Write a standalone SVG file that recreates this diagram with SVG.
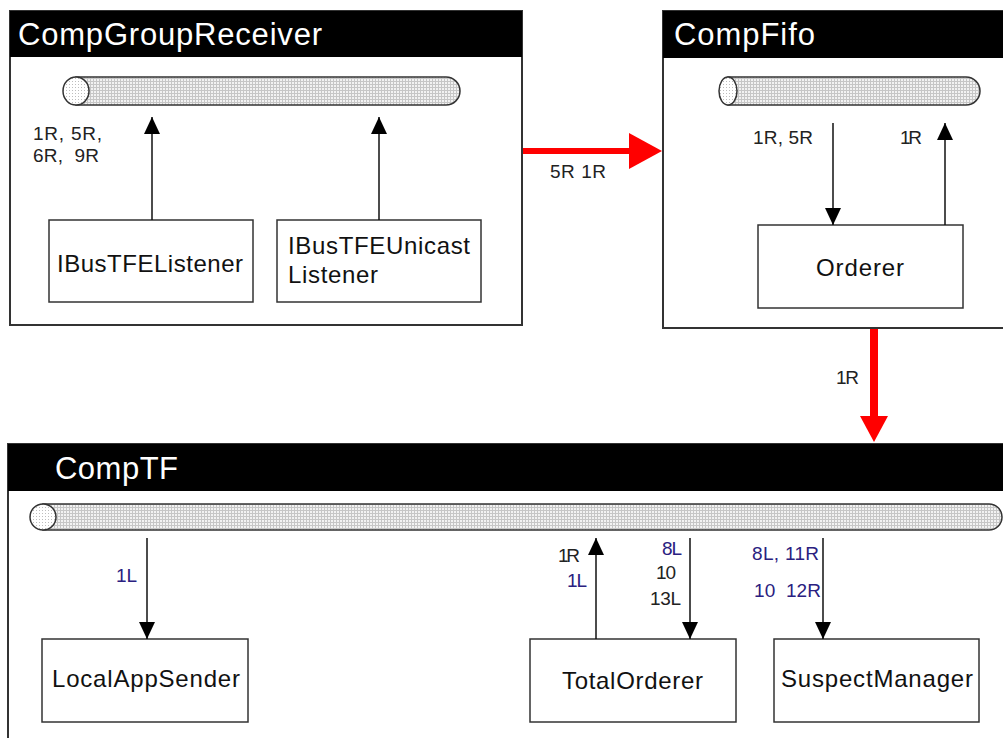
<svg xmlns="http://www.w3.org/2000/svg" width="1003" height="738" viewBox="0 0 1003 738">
  <defs>
    <!-- fine dotted grid fill used for the bus cylinders -->
    <pattern id="dots" width="3" height="3" patternUnits="userSpaceOnUse">
      <rect width="3" height="3" fill="#f2f2f2"/>
      <rect width="3" height="1" fill="#c6c6c6"/>
      <rect width="1" height="3" fill="#c6c6c6"/>
    </pattern>
    <pattern id="dotsLight" width="3" height="3" patternUnits="userSpaceOnUse">
      <rect width="3" height="3" fill="#ffffff"/>
      <rect width="1" height="1" fill="#bdbdbd"/>
    </pattern>
    <marker id="arrow" viewBox="0 0 17 16" refX="17" refY="8" markerWidth="17" markerHeight="16" markerUnits="userSpaceOnUse" orient="auto">
      <path d="M0,0 L17,8 L0,16 z" fill="#000"/>
    </marker>
    <style>
      .frame { fill: #ffffff; stroke: #333333; stroke-width: 2; }
      .header { fill: #000000; }
      .title { font-family: "Liberation Sans", Arial, sans-serif; font-size: 31px; fill: #ffffff; }
      .node { fill: #ffffff; stroke: #333333; stroke-width: 1.5; }
      .nlabel { font-family: "Liberation Sans", Arial, sans-serif; font-size: 24px; fill: #111111; }
      .lbl { font-family: "Liberation Sans", Arial, sans-serif; font-size: 19px; fill: #222222; }
      .blue { fill: #2a2080; }
      .bus { fill: url(#dots); stroke: #333333; stroke-width: 1.5; }
      .cap { fill: url(#dotsLight); stroke: #333333; stroke-width: 1.5; }
      .link { stroke: #111111; stroke-width: 1.5; fill: none; marker-end: url(#arrow); }
      .red { stroke: #ff0000; fill: none; }
      .redhead { fill: #ff0000; }
    </style>
  </defs>

  <rect width="1003" height="738" fill="#ffffff"/>

  <!-- CompGroupReceiver container -->
  <g id="CompGroupReceiver">
    <rect class="frame" x="10" y="11" width="512" height="314"/>
    <rect class="header" x="10" y="11" width="512" height="46"/>
    <text class="title" x="18" y="45" textLength="304" lengthAdjust="spacing">CompGroupReceiver</text>
    <g id="bus-receiver">
      <path class="bus" d="M76,77 L446,77 A14,14 0 0 1 446,105 L76,105 z"/>
      <ellipse class="cap" cx="76" cy="91" rx="13" ry="14"/>
    </g>
    <text class="lbl" x="33" y="140" textLength="69" lengthAdjust="spacing">1R, 5R,</text>
    <text class="lbl" x="33" y="162" textLength="66" lengthAdjust="spacing" xml:space="preserve">6R,  9R</text>
  </g>

  <g id="IBusTFEListener">
    <rect class="node" x="49" y="220" width="204" height="82"/>
    <text class="nlabel" x="57" y="272" textLength="186" lengthAdjust="spacing">IBusTFEListener</text>
  </g>

  <g id="IBusTFEUnicastListener">
    <rect class="node" x="277" y="220" width="204" height="82"/>
    <text class="nlabel" x="288" y="254" textLength="182" lengthAdjust="spacing">IBusTFEUnicast</text>
    <text class="nlabel" x="288" y="283" textLength="90" lengthAdjust="spacing">Listener</text>
  </g>

  <!-- CompFifo container -->
  <g id="CompFifo">
    <rect class="frame" x="663" y="11" width="350" height="317"/>
    <rect class="header" x="663" y="11" width="350" height="47"/>
    <text class="title" x="674" y="45" textLength="141" lengthAdjust="spacing">CompFifo</text>
    <g id="bus-fifo">
      <path class="bus" d="M728,77 L966,77 A14,14 0 0 1 966,105 L728,105 z"/>
      <ellipse class="cap" cx="728" cy="91" rx="9" ry="14"/>
    </g>
    <text class="lbl" x="753" y="144" textLength="60" lengthAdjust="spacing">1R, 5R</text>
    <text class="lbl" x="900" y="144" textLength="22" lengthAdjust="spacing">1R</text>
  </g>

  <g id="Orderer">
    <rect class="node" x="758" y="225" width="205" height="83"/>
    <text class="nlabel" x="816" y="276" textLength="88" lengthAdjust="spacing">Orderer</text>
  </g>

  <!-- CompTF container -->
  <g id="CompTF">
    <rect class="frame" x="8" y="444" width="1005" height="310"/>
    <rect class="header" x="8" y="444" width="1005" height="47"/>
    <text class="title" x="55" y="479" textLength="123" lengthAdjust="spacing">CompTF</text>
    <g id="bus-tf">
      <path class="bus" d="M43,504 L989,504 A13,13 0 0 1 989,530 L43,530 z"/>
      <ellipse class="cap" cx="43" cy="517" rx="13" ry="13"/>
    </g>
    <text class="lbl blue" x="116" y="582" textLength="21" lengthAdjust="spacing">1L</text>
    <text class="lbl" x="558" y="562" textLength="22" lengthAdjust="spacing">1R</text>
    <text class="lbl blue" x="567" y="587" textLength="20" lengthAdjust="spacing">1L</text>
    <text class="lbl blue" x="662" y="555" textLength="20" lengthAdjust="spacing">8L</text>
    <text class="lbl" x="656" y="579" textLength="20" lengthAdjust="spacing">10</text>
    <text class="lbl" x="650" y="605" textLength="31" lengthAdjust="spacing">13L</text>
    <text class="lbl blue" x="752" y="560" textLength="67" lengthAdjust="spacing">8L, 11R</text>
    <text class="lbl blue" x="754" y="597" textLength="67" lengthAdjust="spacing" xml:space="preserve">10  12R</text>
  </g>

  <g id="LocalAppSender">
    <rect class="node" x="42" y="639" width="206" height="83"/>
    <text class="nlabel" x="52" y="687" textLength="188" lengthAdjust="spacing">LocalAppSender</text>
  </g>

  <g id="TotalOrderer">
    <rect class="node" x="530" y="639" width="206" height="83"/>
    <text class="nlabel" x="562" y="689" textLength="141" lengthAdjust="spacing">TotalOrderer</text>
  </g>

  <g id="SuspectManager">
    <rect class="node" x="774" y="639" width="205" height="83"/>
    <text class="nlabel" x="781" y="687" textLength="192" lengthAdjust="spacing">SuspectManager</text>
  </g>

  <!-- connectors -->
  <g id="connectors">
    <line class="link" x1="152" y1="220" x2="152" y2="117"/>
    <line class="link" x1="379" y1="220" x2="379" y2="117"/>
    <line class="link" x1="833" y1="123" x2="833" y2="225"/>
    <line class="link" x1="945" y1="225" x2="945" y2="123"/>
    <line class="link" x1="147" y1="538" x2="147" y2="639"/>
    <line class="link" x1="596" y1="639" x2="596" y2="538"/>
    <line class="link" x1="690" y1="538" x2="690" y2="639"/>
    <line class="link" x1="823" y1="538" x2="823" y2="639"/>

    <!-- CompGroupReceiver to CompFifo -->
    <line class="red" x1="523" y1="151" x2="630" y2="151" stroke-width="6"/>
    <polygon class="redhead" points="629,133 662,151 629,169"/>
    <text class="lbl" x="550" y="178" textLength="56" lengthAdjust="spacing">5R 1R</text>

    <!-- CompFifo to CompTF -->
    <line class="red" x1="874" y1="329" x2="874" y2="417" stroke-width="8"/>
    <polygon class="redhead" points="860,416 888,416 874,442"/>
    <text class="lbl" x="836" y="384" textLength="23" lengthAdjust="spacing">1R</text>
  </g>
</svg>
